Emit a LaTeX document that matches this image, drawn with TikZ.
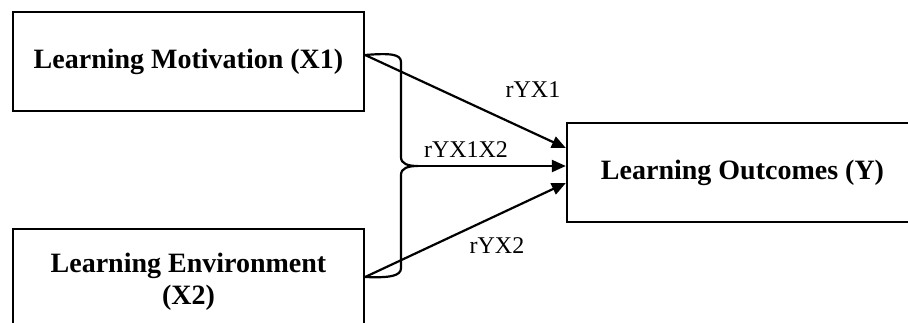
\documentclass[tikz,border=0pt]{standalone}
\usepackage{fontspec}
\setmainfont{Liberation Serif}
\usetikzlibrary{arrows.meta}
\tikzset{
  box/.style={draw, line width=2.3pt, minimum width=351pt, minimum height=99pt, inner sep=0pt,
    font=\fontsize{28}{32}\selectfont\bfseries, align=center},
  coeff/.style={font=\fontsize{24}{26}\selectfont, inner sep=0pt},
  arrow/.style={line width=2.2pt, -{Triangle[length=14pt,width=12pt]}}
}
\begin{document}
\begin{tikzpicture}[x=1pt,y=-1pt]
    % Area visibile
    \useasboundingbox (0,0) rectangle (908,322);
    \clip (0,0) rectangle (908,322);

    % Riquadri delle variabili
    \node[box] (mot) at (188.5,61.5) {Learning Motivation (X1)};
    \node[box, minimum height=105pt] (env) at (188.5,281.5) {Learning Environment\\(X2)};
    \node[box] (out) at (742.5,172.5) {Learning Outcomes (Y)};

    % Parentesi graffa tra le due variabili
    \coordinate (tip) at (418,166);
    \draw[line width=2.2pt] ([yshift=6.5pt]mot.east) .. controls (390,53) and (401,54) .. (401,62)
        -- (401,157) .. controls (401,164) and (408,166) .. (tip)
        .. controls (408,166) and (401,168) .. (401,175)
        -- (401,268) .. controls (401,276) and (390,278) .. ([yshift=4.5pt]env.east);

    % Frecce verso l'esito
    \draw[arrow] ([yshift=6.5pt]mot.east) -- ([yshift=24.5pt]out.west);
    \draw[arrow] (tip) -- ([yshift=6.5pt]out.west);
    \draw[arrow] ([yshift=4.5pt]env.east) -- ([yshift=-10.5pt]out.west);

    % Coefficienti
    \node[coeff] (r1) at (533,90) {rYX1};
    \node[coeff] (r12) at (466,150) {rYX1X2};
    \node[coeff] (r2) at (497,246) {rYX2};
\end{tikzpicture}
\end{document}
